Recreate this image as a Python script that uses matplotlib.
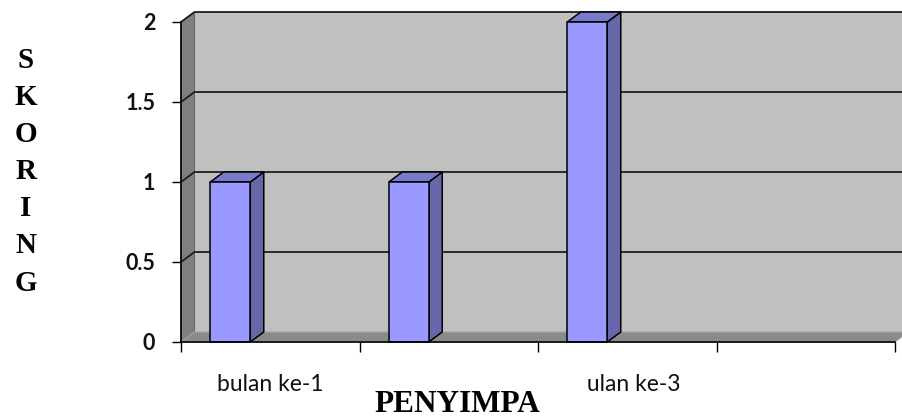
import numpy as np
import matplotlib
matplotlib.use("Agg")
import matplotlib.pyplot as plt
from matplotlib.patches import Polygon, Rectangle

# ---- data ----
categories = ["bulan ke-1", "bulan ke-2", "bulan ke-3", ""]
values = [1, 1, 2, np.nan]
# labels as visible in the reference (the 2nd is hidden behind the axis title)
tick_labels = ["bulan ke-1", "", "bulan ke-3", ""]
yticks = [0, 0.5, 1, 1.5, 2]
ytick_labels = ["0", "0.5", "1", "1.5", "2"]
x_title = "PENYIMPA"
y_title = "SKORING"

# ---- style ----
W, H, DPI = 902, 418, 100
FRONT = "#9999FF"
SIDE = "#6666A8"
TOP = "#7A7ACC"
WALL = "#C0C0C0"
SIDEWALL = "#808080"
FLOOR = "#8A8A8A"

fig = plt.figure(figsize=(W / DPI, H / DPI), dpi=DPI)
fig.patch.set_facecolor("white")
ax = fig.add_axes([181 / W, (H - 342) / H, 714 / W, 320 / H])
n = len(categories)
x0, x1 = 0.5, n + 0.5
ymin, ymax = 0, 2
ax.set_xlim(x0, x1)
ax.set_ylim(ymin, ymax)
ax.patch.set_visible(False)

# depth offset (pixels -> data units)
px_per_x = 714 / (x1 - x0)
px_per_y = 320 / (ymax - ymin)
dx = 13.5 / px_per_x
dy = 10.0 / px_per_y

# walls
ax.add_patch(Rectangle((x0 + dx, dy), x1 - x0, ymax - ymin, fc=WALL, ec="none",
                       clip_on=False, zorder=0))
ax.add_patch(Polygon([(x0, 0), (x0 + dx, dy), (x0 + dx, ymax + dy), (x0, ymax)],
                     closed=True, fc=SIDEWALL, ec="#555555", lw=0.6, clip_on=False, zorder=0.5))
ax.add_patch(Polygon([(x0, 0), (x1, 0), (x1 + dx, dy), (x0 + dx, dy)],
                     closed=True, fc=FLOOR, ec="#A8A8A8", lw=0.8, clip_on=False, zorder=0.5))

# gridlines (back wall + side wall diagonal)
for v in yticks[1:]:
    ax.plot([x0, x0 + dx, x1 + dx], [v, v + dy, v + dy], color="#1E1E1E", lw=1.3,
            clip_on=False, zorder=1, solid_capstyle="butt")

# bars
centers = np.arange(1, n + 1)
bw = 0.224
offs = -0.224
vals = np.array(values, dtype=float)
mask = ~np.isnan(vals)
bx = centers[mask] + offs
bv = vals[mask]
ax.bar(bx, bv, width=bw, color=FRONT, edgecolor="black", lw=1.1, zorder=3, clip_on=False)
for xc, v in zip(bx, bv):
    l, r = xc - bw / 2, xc + bw / 2
    ax.add_patch(Polygon([(r, 0), (r + dx, dy), (r + dx, v + dy), (r, v)], closed=True,
                         fc=SIDE, ec="black", lw=1.1, zorder=2.9, clip_on=False))
    ax.add_patch(Polygon([(l, v), (r, v), (r + dx, v + dy), (l + dx, v + dy)], closed=True,
                         fc=TOP, ec="black", lw=1.1, zorder=2.9, clip_on=False))

# spines
for s in ["top", "right"]:
    ax.spines[s].set_visible(False)
for s in ["left", "bottom"]:
    ax.spines[s].set_color("black")
    ax.spines[s].set_linewidth(1.2)
    ax.spines[s].set_zorder(4)

# ticks
ax.set_xticks(np.arange(x0, x1 + 0.01, 1.0))
ax.set_xticklabels([""] * (n + 1))
ax.set_xticks(centers, minor=True)
ax.set_xticklabels(tick_labels, minor=True, fontsize=16.5, family="Lato", color="#111111")
ax.tick_params(axis="x", which="major", direction="out", length=7, width=1, color="black")
ax.tick_params(axis="x", which="minor", length=0, pad=23)
ax.set_yticks(yticks)
ax.set_yticklabels(ytick_labels, fontsize=15.5, family="Lato", fontweight="bold", color="#111111")
ax.tick_params(axis="y", direction="out", length=6.5, width=1, pad=12, color="black")

# title box covering part of the labels (as in the reference)
fig.patches.append(Rectangle((362 / W, 0), (585.5 - 362) / W, (H - 374) / H,
                             transform=fig.transFigure, fc="white", ec="none", zorder=1.5))
fig.text(457 / W, (H - 411.5) / H, x_title, ha="center", va="baseline",
         family="Liberation Serif", fontweight="bold", fontsize=22.5, zorder=3)

# vertical y title (one letter per line)
for k, ch in enumerate(y_title):
    fig.text(26 / W, 1 - (60 + 37.2 * k) / H, ch, ha="center", va="center",
             family="Liberation Serif", fontweight="bold", fontsize=21)

fig.savefig("out.png", dpi=DPI)
